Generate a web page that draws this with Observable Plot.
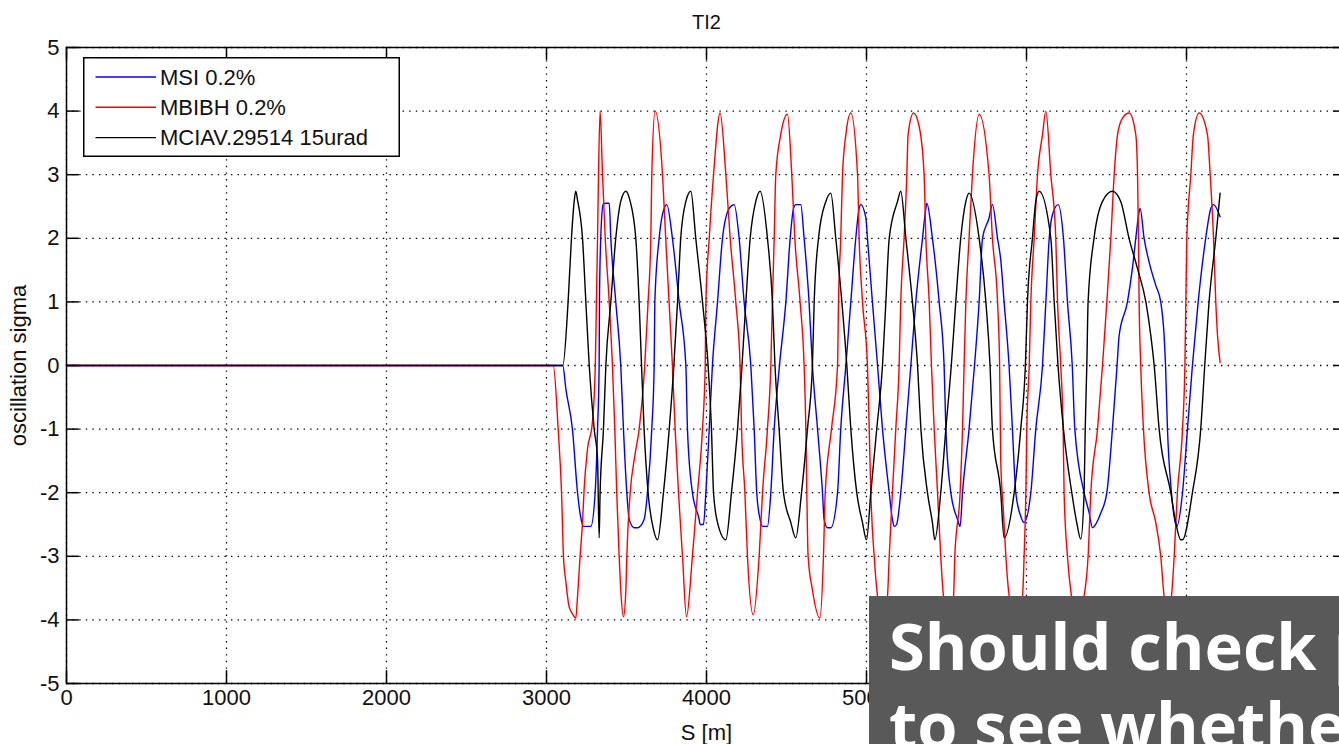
<!DOCTYPE html>
<html>
<head>
<meta charset="utf-8">
<script src="https://cdn.jsdelivr.net/npm/d3@7"></script>
<script src="https://cdn.jsdelivr.net/npm/@observablehq/plot@0.6"></script>
<style>
  html, body { margin: 0; padding: 0; background: #fff; overflow: hidden; }
  body { width: 1339px; height: 744px; position: relative; }
  #chart { position: absolute; left: 0; top: 0; width: 1360px; }
  #chart svg { max-width: none !important; }
  #legend { position: absolute; left: 83px; top: 57px; }
  #note { position: absolute; left: 869px; top: 596px; }
</style>
</head>
<body>
<div id="chart"></div>
<svg id="legend" width="318" height="101"></svg>
<svg id="note" width="480" height="150"></svg>
<script>
// ---------- data ----------
const chartTitle = "TI2";
const xLabel = "S [m]";
const yLabel = "oscillation sigma";
const xTicks = [0, 1000, 2000, 3000, 4000, 5000, 6000, 7000, 8000];
const xTickLabels = [0, 1000, 2000, 3000, 4000, 5000]; // the rest sit under the note box
const yTicks = [-5, -4, -3, -2, -1, 0, 1, 2, 3, 4, 5];
const seriesNames = ["MSI 0.2%", "MBIBH 0.2%", "MCIAV.29514 15urad"];
const seriesColors = ["#0000ff", "#ff0000", "#000000"];
const noteLines = ["Should check p", "to see whether"];

// MSI 0.2%  [S (m), sigma]
const msiPoints = [
  [0,0],[3102,0],[3121,-0.37],[3162,-1],[3194,-2],[3219,-2.45],[3231,-2.53],[3277,-2.53],[3304,-2],[3319,-1],[3329,0],
  [3331,1],[3339,2],[3354,2.53],[3370,2.55],[3392,2.55],[3402,2],[3433,1],[3464,0],
  [3481,-1],[3502,-2],[3517,-2.42],[3548,-2.55],[3569,-2.55],[3610,-2.42],[3631,-2],[3658,-1],[3673,0],
  [3677,1],[3704,2],[3735,2.47],[3752,2.53],[3787,2],[3829,1],[3871,0],
  [3881,-1],[3912,-2],[3954,-2.42],[3960,-2.5],[3981,-2.5],[3996,-2],[4017,-1],[4037,0],
  [4069,1],[4100,2],[4142,2.47],[4173,2.53],[4204,2],[4235,1],[4277,0],
  [4298,-1],[4314,-2],[4335,-2.42],[4350,-2.53],[4381,-2.53],[4402,-2],[4423,-1],[4456,0],
  [4496,1],[4523,2],[4544,2.47],[4558,2.53],[4589,2.53],[4610,2],[4641,1],[4662,0],
  [4694,-1],[4725,-2],[4735,-2.42],[4756,-2.55],[4777,-2.55],[4819,-2],[4839,-1],[4871,0],
  [4902,1],[4933,2],[4954,2.47],[4964,2.53],[4996,2.32],[5006,2],[5037,1],[5069,0],
  [5100,-1],[5142,-2],[5162,-2.42],[5173,-2.53],[5188,-2.5],[5214,-2],[5246,-1],[5277,0],
  [5308,1],[5350,2],[5371,2.47],[5377,2.55],[5412,2],[5454,1],[5485,0],
  [5496,-1],[5527,-2],[5569,-2.42],[5585,-2.53],[5600,-2],[5641,-1],[5675,0],
  [5704,1],[5725,2],[5766,2.32],[5787,2.53],[5819,2],[5839,1.66],[5860,1],[5891,0],
  [5912,-1],[5933,-2],[5964,-2.37],[5985,-2.47],[6027,-2],[6058,-1],[6100,0],
  [6121,1],[6142,2],[6162,2.37],[6198,2.53],[6231,2],[6256,1],[6286,0],
  [6302,-1],[6360,-2],[6392,-2.32],[6412,-2.55],[6464,-2.32],[6502,-2],[6537,-1],[6566,0],
  [6579,0.47],[6631,1],[6662,1.53],[6683,2],[6704,2.42],[6710,2.47],[6735,2],[6766,1.63],[6808,1.26],[6839,1],[6860,0.47],[6869,0],
  [6881,-1],[6906,-2],[6939,-2.53],[6975,-2],[7006,-1],[7037,0],
  [7073,1],[7120,2],[7152,2.47],[7169,2.53],[7210,2.34]
];

// MBIBH 0.2%  [S (m), sigma]
const mbibhPoints = [
  [0,0],[3042,0],[3073,-1],[3094,-2],[3106,-3],[3121,-3.4],[3142,-3.8],[3162,-3.9],[3183,-3.97],[3194,-3.63],[3210,-3],[3225,-2.47],[3235,-1.95],[3256,-1.32],[3287,-0.89],[3305,0],
  [3312,1],[3319,2],[3325,3],[3335,4],[3350,3],[3367,2],[3392,1],[3412,0],
  [3427,-1],[3439,-2],[3454,-3],[3464,-3.53],[3481,-3.95],[3496,-3.53],[3502,-3],[3523,-2],[3552,-1.42],[3579,-1],[3614,0],
  [3635,1],[3652,2],[3658,3],[3679,4],[3725,3],[3745,2],[3766,1],[3787,0],
  [3804,-1],[3825,-2],[3850,-3],[3875,-3.95],[3912,-3],[3944,-2],[3975,-1],[3992,0],
  [3996,1],[4017,2],[4044,3],[4085,3.97],[4121,3],[4148,2],[4183,1],[4210,0],
  [4219,-1],[4240,-2],[4256,-3],[4292,-3.92],[4329,-3],[4350,-2],[4381,-1],[4402,0],
  [4412,1],[4423,2],[4433,3],[4464,3.63],[4506,3.95],[4533,3],[4552,2],[4585,1],[4610,0],
  [4621,-1],[4627,-2],[4635,-3],[4662,-3.53],[4708,-3.97],[4731,-3],[4742,-2],[4781,-1],[4819,0],
  [4825,1],[4839,2],[4850,3],[4871,3.63],[4902,3.97],[4944,3],[4954,2],[4975,1],[5006,0],
  [5017,-1],[5027,-2],[5048,-3],[5069,-3.63],[5100,-4],[5131,-3.63],[5142,-3],[5162,-2],[5183,-1],[5204,0],
  [5214,1],[5235,2],[5252,3],[5260,3.63],[5294,3.97],[5330,3.75],[5360,3],[5371,2],[5392,1],[5406,0],
  [5423,-1],[5444,-2],[5464,-3],[5481,-3.63],[5512,-4],[5544,-3.63],[5552,-3],[5585,-2],[5600,-1],[5610,0],
  [5621,1],[5641,2],[5662,3],[5704,3.95],[5766,3],[5787,2],[5819,1],[5832,0],
  [5839,-1.5],[5856,-2.3],[5871,-3],[5892,-3.63],[5933,-4],[5975,-3.63],[5985,-3],[5996,-2],[6002,-1],[6017,0],
  [6027,1],[6048,2],[6069,3],[6100,3.63],[6121,4],[6152,3],[6183,2],[6194,1],[6214,0],
  [6229,-1],[6235,-2],[6256,-3],[6281,-3.63],[6320,-4],[6360,-3.63],[6385,-3],[6402,-2],[6444,-1],[6475,0],
  [6502,1],[6527,2],[6548,3],[6569,3.63],[6600,3.89],[6642,3.97],[6683,3.63],[6694,3],[6700,2],[6704,1],[6714,0],
  [6731,-1],[6766,-2],[6808,-2.47],[6839,-3],[6860,-3.63],[6883,-3.9],[6906,-3.63],[6923,-3],[6943,-2],[6975,-1],[6990,0],
  [6996,1],[7002,2],[7027,3],[7043,3.63],[7079,3.97],[7131,3.63],[7148,3],[7169,2],[7183,1],[7194,0.47],[7210,0.05]
];

// MCIAV.29514 15urad  [S (m), sigma]
const mciavPoints = [
  [0,0],[3102,0],[3135,1],[3156,2],[3173,2.58],[3183,2.74],[3194,2.6],[3225,2],[3246,1],[3267,0],
  [3298,-1],[3319,-1.47],[3329,-2.71],[3335,-2],[3356,-1],[3371,0],
  [3402,1],[3433,2],[3464,2.58],[3496,2.74],[3521,2.6],[3558,2],[3579,1],[3594,0],
  [3610,-1],[3635,-2],[3669,-2.58],[3694,-2.74],[3731,-2],[3767,-1],[3796,0],
  [3819,1],[3839,2],[3871,2.58],[3902,2.74],[3933,2],[3975,1],[4010,0],
  [4031,-1],[4044,-2],[4069,-2.47],[4121,-2.74],[4156,-2],[4194,-1],[4222,0],
  [4246,1],[4273,2],[4308,2.58],[4335,2.74],[4381,2],[4412,1],[4428,0],
  [4454,-1],[4481,-2],[4527,-2.47],[4558,-2.71],[4594,-2],[4631,-1],[4662,0],
  [4673,1],[4700,2],[4746,2.58],[4777,2.71],[4808,2],[4846,1],[4877,0],
  [4902,-1],[4939,-2],[4975,-2.47],[5000,-2.74],[5027,-2],[5064,-1],[5100,0],
  [5121,1],[5142,2],[5194,2.58],[5214,2.74],[5246,2],[5287,1],[5319,0],
  [5340,-1],[5381,-2],[5412,-2.47],[5427,-2.74],[5464,-2],[5496,-1],[5530,0],
  [5558,1],[5589,2],[5621,2.58],[5641,2.71],[5704,2],[5746,1],[5772,0],
  [5787,-1],[5839,-2],[5860,-2.71],[5923,-2],[5964,-1],[5993,0],
  [6006,1],[6037,2],[6058,2.58],[6079,2.74],[6152,2],[6173,1],[6197,0],
  [6231,-1],[6283,-2],[6314,-2.47],[6339,-2.73],[6360,-2],[6367,-1],[6377,0],
  [6385,1],[6422,2],[6475,2.58],[6537,2.74],[6589,2.58],[6641,2],[6693,1.53],[6746,1],[6777,0.47],[6798,0],
  [6829,-1],[6902,-2],[6933,-2.47],[6964,-2.74],[6975,-2.74],[7037,-2],[7089,-1],[7114,0],
  [7141,1],[7183,2],[7210,2.71]
];

// ---------- build table ----------
const allSeries = [msiPoints, mbibhPoints, mciavPoints];
const rows = [];
allSeries.forEach((pts, k) => pts.forEach(([s, v]) => rows.push({s, v, series: seriesNames[k]})));

const W = 1360, H = 744;
const mL = 66, mR = 14, mT = 47, mB = 61;
const innerW = W - mL - mR, innerH = H - mT - mB;
const tickLen = 12.8;
const font = "'Liberation Sans', Arial, Helvetica, sans-serif";

const chart = Plot.plot({
  width: W, height: H,
  marginLeft: mL, marginRight: mR, marginTop: mT, marginBottom: mB,
  x: {domain: [0, 8000], axis: null},
  y: {domain: [-5, 5], axis: null},
  color: {domain: seriesNames, range: seriesColors},
  style: {fontFamily: font, fontSize: "22px", background: "white", maxWidth: "none", overflow: "visible", color: "black"},
  marks: [
    // dotted grid
    Plot.ruleX(xTicks, {x: d => d, stroke: "black", strokeWidth: 1.3, strokeDasharray: "1.4,5.2"}),
    Plot.ruleY(yTicks, {y: d => d, stroke: "black", strokeWidth: 1.3, strokeDasharray: "1.4,5.2"}),
    // data
    Plot.line(rows, {x: "s", y: "v", z: "series", stroke: "series", strokeWidth: 1.4, curve: "monotone-x"}),
    // frame and inward ticks
    Plot.frame({stroke: "black", strokeWidth: 1.5}),
    Plot.tickX(xTicks, {x: d => d, stroke: "black", strokeWidth: 1.5, insetTop: innerH - tickLen}),
    Plot.tickX(xTicks, {x: d => d, stroke: "black", strokeWidth: 1.5, insetBottom: innerH - tickLen}),
    Plot.tickY(yTicks, {y: d => d, stroke: "black", strokeWidth: 1.5, insetRight: innerW - tickLen}),
    Plot.tickY(yTicks, {y: d => d, stroke: "black", strokeWidth: 1.5, insetLeft: innerW - tickLen}),
    // tick labels
    Plot.text(xTickLabels, {x: d => d, text: d => String(d), frameAnchor: "bottom", textAnchor: "middle", lineAnchor: "top", dy: 6, fill: "#111"}),
    Plot.text(yTicks, {y: d => d, text: d => String(d), frameAnchor: "left", textAnchor: "end", lineAnchor: "middle", dx: -7, fill: "#111"}),
    // axis labels and title
    Plot.text([xLabel], {text: d => d, frameAnchor: "bottom", textAnchor: "middle", lineAnchor: "bottom", dy: 56, fill: "#111"}),
    Plot.text([yLabel], {text: d => d, frameAnchor: "left", textAnchor: "middle", lineAnchor: "middle", rotate: -90, dx: -48, fill: "#111"}),
    Plot.text([chartTitle], {text: d => d, frameAnchor: "top", textAnchor: "middle", lineAnchor: "middle", dy: -25, fontSize: 20, fill: "#111"})
  ]
});
document.getElementById("chart").appendChild(chart);

// ---------- legend ----------
const ns = "http://www.w3.org/2000/svg";
const leg = document.getElementById("legend");
function el(tag, attrs, parent) {
  const e = document.createElementNS(ns, tag);
  for (const k in attrs) e.setAttribute(k, attrs[k]);
  parent.appendChild(e);
  return e;
}
el("rect", {x: 0.75, y: 0.75, width: 315.5, height: 98.5, fill: "white", stroke: "black", "stroke-width": 1.5}, leg);
seriesNames.forEach((name, i) => {
  const y = 20 + i * 30.3;
  el("line", {x1: 12.5, x2: 73, y1: y, y2: y, stroke: seriesColors[i], "stroke-width": 1.4}, leg);
  const t = el("text", {x: 77, y: y, "dominant-baseline": "central", fill: "#111",
    style: `font-family:${font};font-size:22px`}, leg);
  t.textContent = name;
});

// ---------- overlay note ----------
const note = document.getElementById("note");
el("rect", {x: 0, y: 0, width: 480, height: 150, fill: "#595959"}, note);
noteLines.forEach((line, i) => {
  const t = el("text", {x: 20, y: 74 + i * 79, fill: "white",
    style: "font-family:'Open Sans',sans-serif;font-weight:700;font-size:65px;white-space:pre"}, note);
  t.textContent = line;
});
</script>
</body>
</html>
